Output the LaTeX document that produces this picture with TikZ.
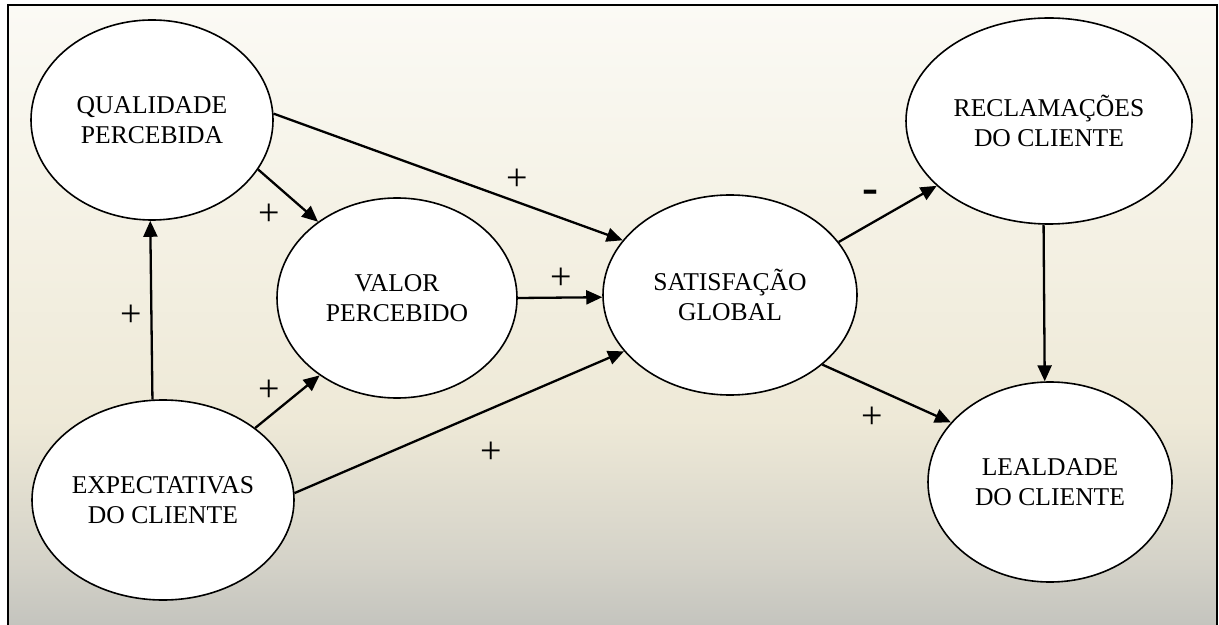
\documentclass[tikz,border=0pt]{standalone}
\usepackage{fontspec}
\setmainfont{Liberation Serif}
\usetikzlibrary{shapes.geometric,arrows.meta}
\definecolor{fadetop}{RGB}{251,250,245}
\definecolor{fadeupper}{RGB}{245,242,230}
\definecolor{fadelower}{RGB}{238,233,215}
\definecolor{fadedeep}{RGB}{212,210,200}
\definecolor{fadebottom}{RGB}{196,196,190}
\pgfdeclareverticalshading{panelfade}{100bp}{color(0bp)=(fadebottom); color(25bp)=(fadebottom); color(30bp)=(fadedeep); color(41.5bp)=(fadelower); color(59bp)=(fadeupper); color(75bp)=(fadetop); color(100bp)=(fadetop)}

\begin{document}
\begin{tikzpicture}[x=0.5pt,y=-0.5pt,
  construct/.style={ellipse,draw,line width=0.8pt,fill=white,inner sep=0pt,align=center,font=\fontsize{12.8}{15}\selectfont},
  effect/.style={line width=1.15pt,-{Triangle[length=8pt,width=7pt]}},
  sign/.style={inner sep=0pt,font=\fontsize{19}{19}\selectfont}]
\useasboundingbox (0,0) rectangle (1219,625);
\shade[shading=panelfade] (8,5) rectangle (1217,625); % panel background
\draw[line width=1pt] (8,625) -- (8,5) -- (1217,5) -- (1217,625);

% constructs
\node[construct,minimum width=121pt,minimum height=100pt] (qual) at (152,120) {QUALIDADE\\PERCEBIDA};
\node[construct,minimum width=131pt,minimum height=100pt] (expe) at (163,500) {EXPECTATIVAS\\DO CLIENTE};
\node[construct,minimum width=120pt,minimum height=100pt] (valor) at (397,298) {VALOR\\PERCEBIDO};
\node[construct,minimum width=127pt,minimum height=100pt] (satis) at (730,295) {SATISFAÇÃO\\GLOBAL};
\node[construct,minimum width=143pt,minimum height=103pt] (recl) at (1049,121) {RECLAMAÇÕES\\DO CLIENTE};
\node[construct,minimum width=122pt,minimum height=100pt] (leal) at (1050,482) {LEALDADE\\DO CLIENTE};

% effects
\draw[effect] (expe.96.8) -- (qual.269.4);
\draw[effect] (qual.-25.7) -- (valor.136.1);
\draw[effect] (qual.3.8) -- (satis.153.6);
\draw[effect] (valor.0) -- (satis.181.4);
\draw[effect] (expe.38.4) -- (valor.225.7);
\draw[effect] (expe.3) -- (satis.208.9);
\draw[effect] (satis.26.1) -- (recl.210.7);
\draw[effect] (satis.-37) -- (leal.149.6);
\draw[effect] (recl.267.2) -- (leal.93.5);

% signs
\node[sign] (plusqs) at (517,180) {+};
\node[sign] (plusqv) at (269,215) {+};
\node[sign] (plusvs) at (561,279) {+};
\node[sign] (plusev) at (269,391) {+};
\node[sign] (pluseq) at (131,316) {+};
\node[sign] (pluses) at (491,453) {+};
\node[sign] (plussl) at (872,418) {+};
\node[sign,font=\fontsize{24}{24}\selectfont\bfseries] (minussr) at (870,197) {-};
\end{tikzpicture}
\end{document}
